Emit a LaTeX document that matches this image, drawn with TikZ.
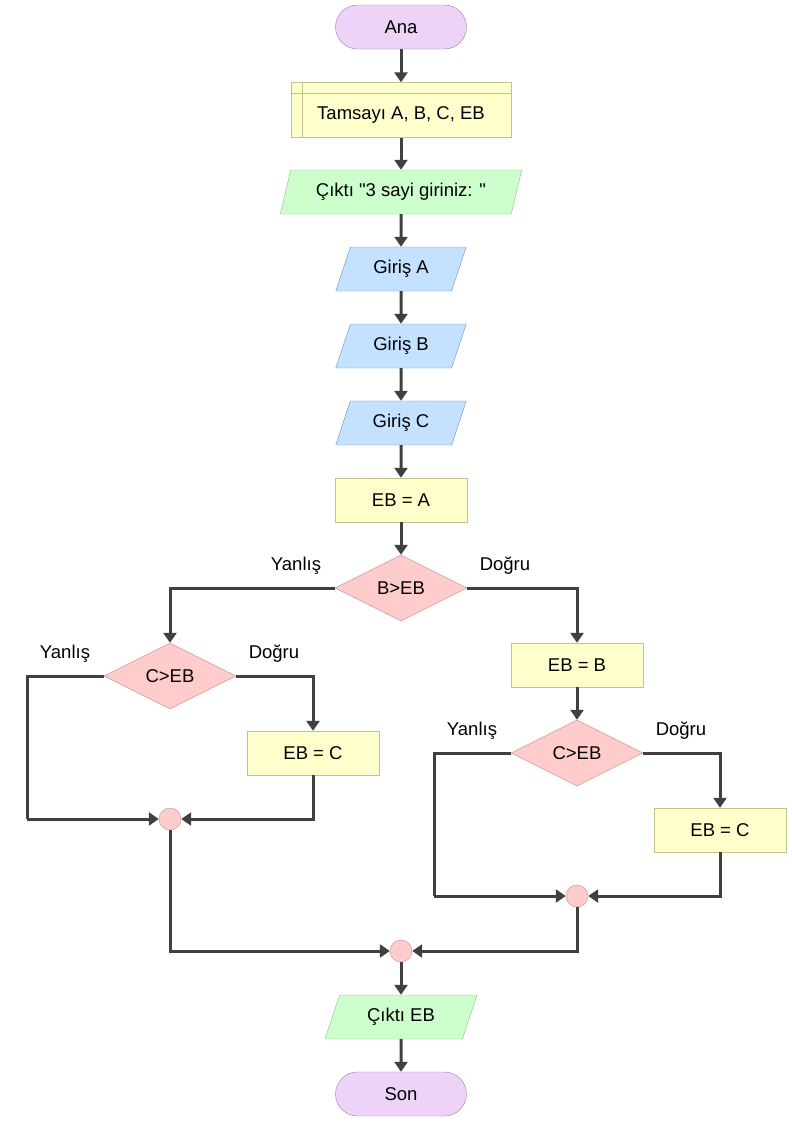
\documentclass[tikz,border=0pt]{standalone}
\usepackage{fontspec}
\newfontfamily\chartfont{Liberation Sans}
\usetikzlibrary{arrows.meta,shapes.geometric}

\definecolor{termfill}{HTML}{EDD3F7}
\definecolor{termline}{HTML}{A07FB0}
\definecolor{declfill}{HTML}{FFFFCC}
\definecolor{declline}{HTML}{C2C28A}
\definecolor{outfill}{HTML}{CCFFCC}
\definecolor{outline}{HTML}{86BC86}
\definecolor{infill}{HTML}{C4E1FF}
\definecolor{inline}{HTML}{6A90BE}
\definecolor{decfill}{HTML}{FFCCCC}
\definecolor{decline}{HTML}{C48E8E}
\definecolor{flowline}{HTML}{404040}

\begin{document}
\begin{tikzpicture}[x=1pt,y=-1pt,
    font=\chartfont\fontsize{18.5}{22}\selectfont,
    terminal/.style={draw=termline,fill=termfill,rounded corners=22pt,
      minimum width=131pt,minimum height=44pt,inner sep=0pt},
    declbox/.style={draw=declline,fill=declfill,minimum width=220pt,minimum height=55pt,
      inner sep=0pt},
    procbox/.style={draw=declline,fill=declfill,minimum width=132pt,minimum height=44pt,inner sep=0pt},
    outpar/.style={trapezium,trapezium stretches=true,trapezium left angle=65,
      trapezium right angle=115,draw=outline,fill=outfill,minimum height=44pt,inner sep=0pt},
    inpar/.style={trapezium,trapezium stretches=true,trapezium left angle=65,
      trapezium right angle=115,draw=inline,fill=infill,minimum width=131pt,
      minimum height=44pt,inner sep=0pt},
    decision/.style={diamond,aspect=2,draw=decline,fill=decfill,
      minimum width=132pt,minimum height=66pt,inner sep=0pt},
    joint/.style={circle,draw=decline,fill=decfill,minimum size=22pt,inner sep=0pt},
    flow/.style={draw=flowline,line width=3pt,-{Triangle[length=10pt,width=13pt]}},
    plain/.style={draw=flowline,line width=3pt}]
  \useasboundingbox (0,0) rectangle (792,1122);

  % main column
  \node[terminal] (ana) at (401,27) {Ana};
  \node[declbox] (decl) at (401,110) {\raisebox{-5pt}[\height][\depth]{Tamsayı A, B, C, EB}};
  \draw[declline] ([xshift=11pt]decl.north west) -- ([xshift=11pt]decl.south west);
  \draw[declline] ([yshift=-11pt]decl.north west) -- ([yshift=-11pt]decl.north east);
  \node[outpar,minimum width=242pt] (prompt) at (401,192) {Çıktı "3 sayi giriniz: "};
  \node[inpar] (ina) at (401,269) {Giriş A};
  \node[inpar] (inb) at (401,346) {Giriş B};
  \node[inpar] (inc) at (401,423) {Giriş C};
  \node[procbox] (eba) at (401,500) {EB = A};
  \node[decision] (cmpb) at (401,588) {B>EB};
  \node (f1) at (296,566) {Yanlış};
  \node (t1) at (505,566) {Doğru};

  % left branch
  \node[decision] (cmpcl) at (170,676) {C>EB};
  \node (f2) at (65,654) {Yanlış};
  \node (t2) at (274,654) {Doğru};
  \node[procbox] (ebcl) at (313,753) {EB = C};
  \node[joint] (jl) at (170,819) {};
  \coordinate (cl) at (27,819);

  % right branch
  \node[procbox] (ebb) at (577,665) {EB = B};
  \node[decision] (cmpcr) at (577,753) {C>EB};
  \node (f3) at (472,731) {Yanlış};
  \node (t3) at (681,731) {Doğru};
  \node[procbox] (ebcr) at (720,830) {EB = C};
  \node[joint] (jr) at (577,896) {};
  \coordinate (cr) at (434,896);

  % end
  \node[joint] (jm) at (401,951) {};
  \node[outpar,minimum width=152pt] (res) at (401,1017) {Çıktı EB};
  \node[terminal] (son) at (401,1094) {Son};

  \draw[flow] (ana) -- (decl);
  \draw[flow] (decl) -- (prompt);
  \draw[flow] (prompt) -- (ina);
  \draw[flow] (ina) -- (inb);
  \draw[flow] (inb) -- (inc);
  \draw[flow] (inc) -- (eba);
  \draw[flow] (eba) -- (cmpb);
  \draw[flow] (cmpb.west) -| (cmpcl.north);
  \draw[flow] (cmpb.east) -| (ebb.north);
  \draw[flow] (cmpcl.east) -| (ebcl.north);
  \draw[plain] (cmpcl.west) -| (cl);
  \draw[flow] (cl) -- (jl.west);
  \draw[flow] (ebcl.south) |- (jl.east);
  \draw[flow] (ebb) -- (cmpcr);
  \draw[flow] (cmpcr.east) -| (ebcr.north);
  \draw[plain] (cmpcr.west) -| (cr);
  \draw[flow] (cr) -- (jr.west);
  \draw[flow] (ebcr.south) |- (jr.east);
  \draw[flow] (jl.south) |- (jm.west);
  \draw[flow] (jr.south) |- (jm.east);
  \draw[flow] (jm) -- (res);
  \draw[flow] (res) -- (son);
\end{tikzpicture}
\end{document}
